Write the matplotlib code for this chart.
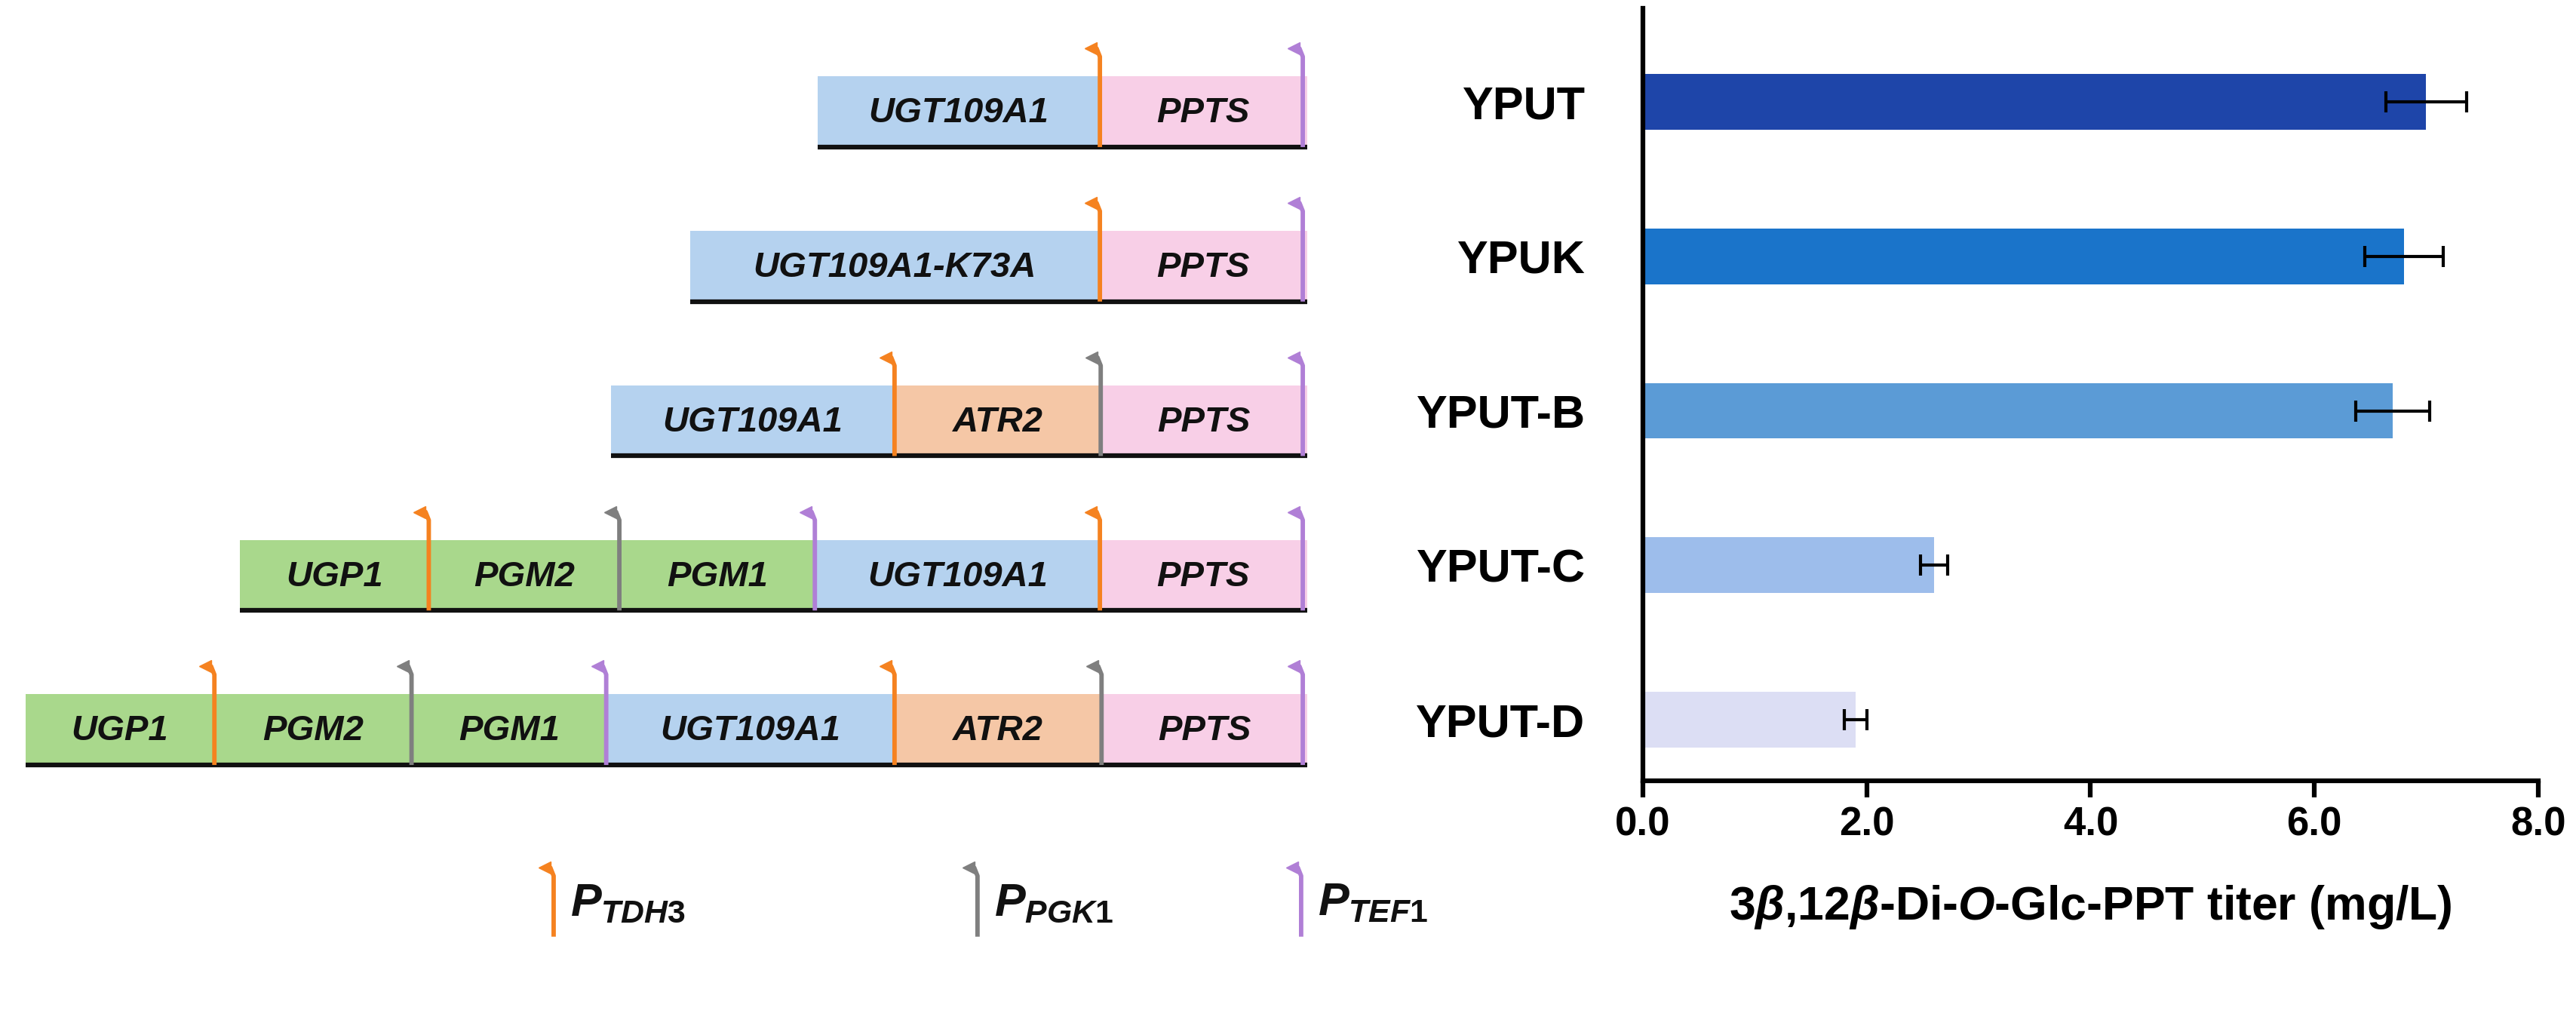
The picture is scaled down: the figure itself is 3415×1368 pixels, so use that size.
"""Gene constructs (left) and 3β,12β-Di-O-Glc-PPT titer of the strains (right)."""

import matplotlib
matplotlib.use("Agg")
import matplotlib.pyplot as plt
import numpy as np
from matplotlib.patches import Rectangle

plt.rcParams.update({
    "font.family": ["Liberation Sans", "DejaVu Sans"],
    "mathtext.fontset": "custom",
    "mathtext.it": "Liberation Sans:bold:italic",
    "mathtext.rm": "Liberation Sans:bold",
    "mathtext.bf": "Liberation Sans:bold",
})

# ---- bar chart data ----
STRAINS = ["YPUT", "YPUK", "YPUT-B", "YPUT-C", "YPUT-D"]
TITER = [7.0, 6.8, 6.7, 2.6, 1.9]
TITER_SD = [0.36, 0.35, 0.33, 0.12, 0.10]
X_TICKS = [0.0, 2.0, 4.0, 6.0, 8.0]

# ---- construct data (one row per strain, genes left -> right) ----
CONSTRUCT_GENES = [
    ["UGT109A1", "PPTS"],
    ["UGT109A1-K73A", "PPTS"],
    ["UGT109A1", "ATR2", "PPTS"],
    ["UGP1", "PGM2", "PGM1", "UGT109A1", "PPTS"],
    ["UGP1", "PGM2", "PGM1", "UGT109A1", "ATR2", "PPTS"],
]
CONSTRUCT_LENGTHS = [
    [172, 126],
    [249.5, 126],
    [172.5, 125.5, 125.5],
    [115, 116, 119, 173.5, 126],
    [115, 120, 118.5, 175.5, 126, 125],
]
CONSTRUCT_PROMOTERS = [
    ["TDH3", "TEF1"],
    ["TDH3", "TEF1"],
    ["TDH3", "PGK1", "TEF1"],
    ["TDH3", "PGK1", "TEF1", "TDH3", "TEF1"],
    ["TDH3", "PGK1", "TEF1", "TDH3", "PGK1", "TEF1"],
]
LEGEND_PROMOTERS = ["TDH3", "PGK1", "TEF1"]

# ---- styles ----
BAR_COLORS = ["#1E45A9", "#1A74CA", "#5B9BD6", "#9DBDEB", "#DCDEF4"]
GENE_COLORS = {
    "UGP1": "#A9D88C", "PGM2": "#A9D88C", "PGM1": "#A9D88C",
    "UGT109A1": "#B5D2EF", "UGT109A1-K73A": "#B5D2EF",
    "ATR2": "#F5C7A6", "PPTS": "#F8CFE7",
}
PROM_COLORS = {"TDH3": "#F58220", "PGK1": "#7F7F7F", "TEF1": "#B07FD6"}

# layout of the diagram, in canvas units (canvas = 1568 x 628)
CANVAS_W, CANVAS_H = 1568, 628
END_X = 795.5
ROW0_LINE = 89.5
ROW_STEP = 94
BOX_H = 43
PROM_RISE = 60


def draw_promoter(ax, x, y_base, y_top, color):
    """Promoter glyph: vertical stem with a hook pointing left."""
    ax.plot([x, x, x - 2, x - 5], [y_base, y_top + 5, y_top, y_top],
            color=color, lw=4.2, solid_capstyle="butt",
            solid_joinstyle="round", zorder=4)
    ax.plot([x - 5.5], [y_top], marker="<", ms=12, color=color, mec=color,
            zorder=4)


fig = plt.figure(figsize=(34.15, 13.68), dpi=100)

# ---------------- left: constructs ----------------
ax_d = fig.add_axes([0, 0, 1, 1])
ax_d.set_xlim(0, CANVAS_W)
ax_d.set_ylim(CANVAS_H, 0)
ax_d.axis("off")

for i, (genes, lens, proms) in enumerate(
        zip(CONSTRUCT_GENES, CONSTRUCT_LENGTHS, CONSTRUCT_PROMOTERS)):
    y_line = ROW0_LINE + i * ROW_STEP
    x0 = END_X - sum(lens)
    x = x0
    for gene, ln in zip(genes, lens):
        ax_d.add_patch(Rectangle((x, y_line - BOX_H), ln, BOX_H,
                                 facecolor=GENE_COLORS[gene],
                                 edgecolor="none", zorder=1))
        ax_d.text(x + ln / 2, y_line - BOX_H / 2 + 1, gene, fontsize=34,
                  fontweight="bold", fontstyle="italic",
                  ha="center", va="center", color="#111111", zorder=3)
        x += ln
    ax_d.plot([x0, END_X], [y_line, y_line], color="#111111", lw=4.5,
              solid_capstyle="butt", zorder=2)
    x = x0
    for j, (ln, prom) in enumerate(zip(lens, proms)):
        x += ln
        px = x - 2.5 if j == len(lens) - 1 else x
        draw_promoter(ax_d, px, y_line, y_line - PROM_RISE, PROM_COLORS[prom])

# promoter legend
legend_x = [337, 595, 792]
for lx, prom in zip(legend_x, LEGEND_PROMOTERS):
    draw_promoter(ax_d, lx, 570, 528, PROM_COLORS[prom])
    ax_d.text(lx + 10, 550, r"$P_{\mathit{%s}}$" % prom, fontsize=44,
              ha="left", va="center", color="#111111")

# ---------------- right: titer bar chart ----------------
ax = fig.add_axes([0.6378, 0.2436, 0.3475, 0.7484])
y = np.arange(len(STRAINS))
ax.barh(y, TITER, height=0.36, color=BAR_COLORS, xerr=TITER_SD,
        error_kw=dict(ecolor="black", elinewidth=3, capsize=10, capthick=3),
        zorder=2)
ax.set_ylim(4.394, -0.606)
ax.set_xlim(0, 8)
ax.set_xticks(X_TICKS)
ax.set_xticklabels([f"{t:.1f}" for t in X_TICKS], fontsize=38,
                   fontweight="bold")
ax.set_yticks(y)
ax.set_yticklabels(STRAINS, fontsize=44, fontweight="bold")
ax.tick_params(axis="y", length=0, pad=55)
ax.tick_params(axis="x", direction="out", length=16, width=4.5, pad=8)
for side in ("top", "right"):
    ax.spines[side].set_visible(False)
for side in ("left", "bottom"):
    ax.spines[side].set_linewidth(4.5)
ax.set_xlabel(r"3$\beta$,12$\beta$-Di-$O$-Glc-PPT titer (mg/L)",
              fontsize=45, fontweight="bold", labelpad=38)

fig.savefig("out.png", dpi=100)
